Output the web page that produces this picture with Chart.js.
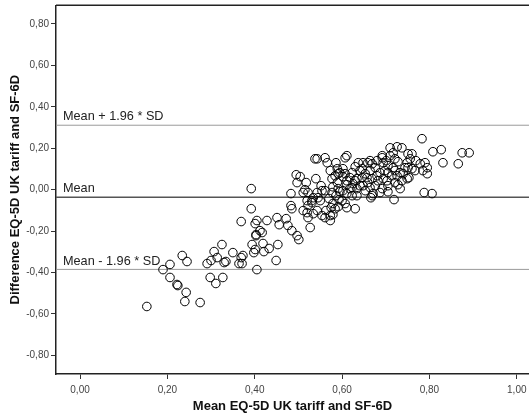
<!DOCTYPE html>
<html>
<head>
<meta charset="utf-8">
<script src="https://cdn.jsdelivr.net/npm/chart.js@4.4.1/dist/chart.umd.min.js"></script>
<style>
  body { margin: 0; background: #fff; }
  #wrap { width: 529px; height: 416px; }
</style>
</head>
<body>
<div id="wrap"><canvas id="myChart" width="529" height="416"></canvas></div>
<script>
// mean of the two measures (x) and their difference (y)
const meanVals = [
  0.153, 0.190, 0.206, 0.206, 0.222, 0.224, 0.243, 0.240, 0.234, 0.245,
  0.275, 0.291, 0.300, 0.307, 0.314, 0.325, 0.298, 0.311, 0.327, 0.330,
  0.334, 0.350, 0.364, 0.369, 0.371, 0.373, 0.394, 0.398, 0.401, 0.403,
  0.405, 0.369, 0.392, 0.392, 0.405, 0.401, 0.412, 0.417, 0.403, 0.419,
  0.421, 0.433, 0.449, 0.453, 0.428, 0.451, 0.456, 0.472, 0.476, 0.485,
  0.497, 0.501, 0.495, 0.497, 0.483, 0.483, 0.485, 0.518, 0.515, 0.527,
  0.520, 0.522, 0.534, 0.538, 0.543, 0.534, 0.531, 0.540, 0.561, 0.566,
  0.586, 0.573, 0.522, 0.511, 0.552, 0.554, 0.543, 0.545, 0.520, 0.522,
  0.531, 0.543, 0.554, 0.563, 0.573, 0.561, 0.575, 0.579, 0.570, 0.584,
  0.591, 0.577, 0.589, 0.579, 0.591, 0.577, 0.586, 0.593, 0.591, 0.579,
  0.573, 0.504, 0.511, 0.589, 0.595, 0.602, 0.611, 0.618, 0.625, 0.618,
  0.602, 0.600, 0.611, 0.630, 0.634, 0.611, 0.607, 0.637, 0.641, 0.659,
  0.669, 0.676, 0.664, 0.653, 0.646, 0.657, 0.669, 0.680, 0.687, 0.634,
  0.664, 0.680, 0.646, 0.623, 0.630, 0.607, 0.611, 0.623, 0.595, 0.611,
  0.634, 0.648, 0.664, 0.671, 0.692, 0.705, 0.705, 0.721, 0.728, 0.737,
  0.749, 0.733, 0.719, 0.607, 0.584, 0.692, 0.694, 0.705, 0.717, 0.726,
  0.705, 0.703, 0.669, 0.666, 0.710, 0.726, 0.717, 0.710, 0.721, 0.728,
  0.692, 0.749, 0.751, 0.760, 0.753, 0.760, 0.756, 0.737, 0.751, 0.744,
  0.740, 0.779, 0.790, 0.795, 0.785, 0.795, 0.783, 0.808, 0.827, 0.875,
  0.891, 0.831, 0.866, 0.788, 0.806, 0.630, 0.641, 0.653, 0.682, 0.694,
  0.698, 0.714, 0.721, 0.733, 0.676, 0.687, 0.659, 0.623, 0.561, 0.550,
  0.602, 0.648, 0.701, 0.767, 0.769
];
const diffVals = [
  -0.564, -0.386, -0.361, -0.424, -0.458, -0.463, -0.496, -0.540, -0.318, -0.347,
  -0.545, -0.357, -0.342, -0.299, -0.328, -0.265, -0.424, -0.453, -0.424, -0.352,
  -0.347, -0.304, -0.357, -0.328, -0.357, -0.318, -0.265, -0.304, -0.289, -0.217,
  -0.386, -0.154, 0.005, -0.092, -0.149, -0.164, -0.198, -0.207, -0.222, -0.260,
  -0.299, -0.284, -0.342, -0.265, -0.149, -0.135, -0.169, -0.140, -0.173, -0.198,
  -0.222, -0.241, 0.072, 0.034, -0.019, -0.077, -0.092, 0.034, 0.000, -0.183,
  -0.111, -0.135, -0.116, 0.149, 0.149, -0.039, -0.053, 0.053, 0.154, 0.130,
  0.130, 0.092, -0.014, -0.014, 0.019, -0.005, -0.014, -0.039, -0.053, -0.077,
  -0.063, -0.101, -0.125, -0.101, -0.125, -0.135, -0.087, -0.067, -0.043, 0.067,
  0.077, 0.053, 0.034, 0.014, 0.005, -0.014, -0.029, -0.048, -0.082, -0.120,
  -0.149, 0.063, -0.101, 0.101, 0.082, 0.063, 0.043, 0.058, 0.029, 0.005,
  -0.005, -0.053, -0.087, -0.092, -0.029, 0.164, 0.154, 0.130, 0.092, 0.130,
  0.125, 0.106, 0.092, 0.077, 0.058, 0.058, 0.053, 0.067, 0.082, 0.053,
  0.140, 0.140, 0.101, 0.082, 0.111, 0.077, 0.024, 0.010, -0.010, -0.019,
  0.005, 0.019, 0.010, -0.019, 0.005, 0.019, -0.010, 0.034, 0.024, 0.043,
  0.053, 0.005, -0.048, -0.067, -0.092, 0.154, 0.130, 0.116, 0.106, 0.067,
  0.082, 0.043, -0.029, -0.039, 0.202, 0.207, 0.178, 0.164, 0.149, 0.135,
  0.164, 0.130, 0.106, 0.101, 0.058, 0.173, 0.149, 0.202, 0.173, 0.106,
  0.077, 0.125, 0.130, 0.106, 0.092, 0.077, 0.246, 0.183, 0.193, 0.178,
  0.178, 0.130, 0.125, -0.014, -0.019, 0.043, 0.019, -0.005, 0.043, 0.053,
  0.092, 0.067, 0.092, 0.082, 0.019, -0.014, 0.034, -0.029, -0.005, -0.053,
  0.101, 0.130, 0.140, 0.092, 0.140
];

// mean difference and limits of agreement
const lineNames = ['Mean + 1.96 * SD', 'Mean', 'Mean - 1.96 * SD'];
const lineValues = [0.311, -0.037, -0.385];
const lineColors = ['#9a9a9a', '#555555', '#9a9a9a'];
const lineWidths = [1, 1.6, 1];

const xTicks = [0, 0.2, 0.4, 0.6, 0.8, 1.0];
const yTicks = [-0.8, -0.6, -0.4, -0.2, 0, 0.2, 0.4, 0.6, 0.8];
const xMin = -0.055, xMax = 1.028;
const yMin = -0.89, yMax = 0.89;

function commaLabel(v){
    return v.toFixed(2).replace('.', ',');
}

const points = meanVals.map((m, i) => ({x: m, y: diffVals[i]}));

const datasets = lineValues.map((v, i) => ({
    type: 'line',
    data: [{x: xMin, y: v}, {x: xMax, y: v}],
    borderColor: lineColors[i],
    borderWidth: lineWidths[i],
    pointRadius: 0,
    fill: false,
    order: 2
}));
datasets.push({
    type: 'scatter',
    data: points,
    pointRadius: 4.3,
    pointBorderWidth: 1,
    pointBorderColor: '#000',
    pointBackgroundColor: 'rgba(0,0,0,0)',
    order: 1
});

// plot area runs right up to the canvas edge, like the original
const stretchRight = {
    id: 'stretchRight',
    afterLayout(chart){
        const xs = chart.scales.x;
        chart.chartArea.right = chart.width;
        chart.chartArea.width = chart.chartArea.right - chart.chartArea.left;
        xs.right = chart.width;
        xs.width = xs.right - xs.left;
        xs.configure();
    }
};

const lineLabels = {
    id: 'lineLabels',
    afterDatasetsDraw(chart){
        const c = chart.ctx;
        const area = chart.chartArea;
        const ys = chart.scales.y;
        c.save();
        c.font = '12.7px "Liberation Sans", Arial, sans-serif';
        c.fillStyle = '#222';
        c.textAlign = 'left';
        c.textBaseline = 'bottom';
        lineNames.forEach((name, i) => {
            c.fillText(name, area.left + 7, ys.getPixelForValue(lineValues[i]) - 2);
        });
        // top edge of the frame
        c.strokeStyle = '#222';
        c.lineWidth = 1.5;
        c.beginPath();
        c.moveTo(area.left, area.top);
        c.lineTo(area.right, area.top);
        c.stroke();
        c.restore();
    }
};

const ctx = document.getElementById('myChart').getContext('2d');
const myChart = new Chart(ctx, {
    data: {datasets: datasets},
    options: {
        responsive: false,
        animation: false,
        layout: {padding: {top: 3, right: 0, left: 0, bottom: 0}},
        plugins: {legend: {display: false}, tooltip: {enabled: false}},
        scales: {
            x: {
                type: 'linear',
                min: xMin,
                max: xMax,
                afterBuildTicks: (scale) => { scale.ticks = xTicks.map(v => ({value: v})); },
                afterFit: (scale) => {
                    scale.height = 42;
                    scale.paddingLeft = 0;
                    scale.paddingRight = 0;
                },
                grid: {drawOnChartArea: false, tickLength: 5, color: '#333', tickWidth: 1},
                border: {display: true, color: '#222', width: 1.5},
                ticks: {
                    callback: (v) => commaLabel(v),
                    font: {family: '"Liberation Sans", Arial, sans-serif', size: 10},
                    color: '#444',
                    padding: 5,
                    maxRotation: 0
                },
                title: {
                    display: true,
                    text: 'Mean EQ-5D UK tariff and SF-6D',
                    font: {family: '"Liberation Sans", Arial, sans-serif', size: 13, weight: 'bold'},
                    color: '#111',
                    padding: {top: 0, bottom: 2}
                }
            },
            y: {
                type: 'linear',
                min: yMin,
                max: yMax,
                afterBuildTicks: (scale) => { scale.ticks = yTicks.map(v => ({value: v})); },
                afterFit: (scale) => {
                    scale.width = 56;
                    scale.paddingTop = 0;
                    scale.paddingBottom = 0;
                },
                grid: {drawOnChartArea: false, tickLength: 5, color: '#333', tickWidth: 1},
                border: {display: true, color: '#222', width: 1.5},
                ticks: {
                    callback: (v) => commaLabel(v),
                    font: {family: '"Liberation Sans", Arial, sans-serif', size: 10},
                    color: '#444',
                    padding: 2
                },
                title: {
                    display: true,
                    text: 'Difference EQ-5D UK tariff and SF-6D',
                    font: {family: '"Liberation Sans", Arial, sans-serif', size: 13, weight: 'bold'},
                    color: '#111',
                    padding: {top: 8, bottom: 0}
                }
            }
        }
    },
    plugins: [stretchRight, lineLabels]
});
</script>
</body>
</html>
